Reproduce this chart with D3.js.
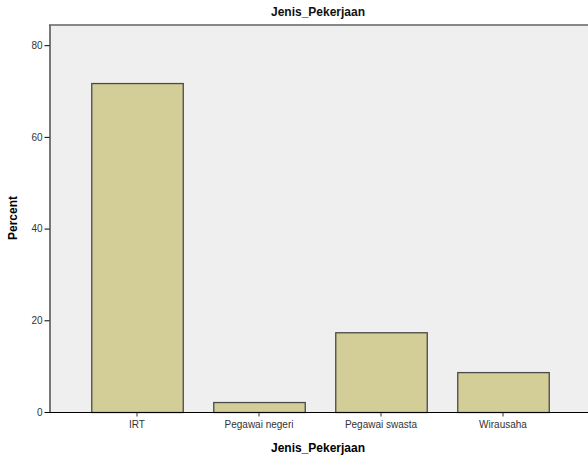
<!DOCTYPE html>
<meta charset="utf-8">
<style>
  body { margin: 0; background: #fff; font-family: "Liberation Sans", Arial, sans-serif; }
  .tick text { font-size: 10px; fill: #333; font-family: "Liberation Sans", Arial, sans-serif; }
</style>
<body>
<svg width="588" height="466"></svg>
<script src="https://d3js.org/d3.v7.min.js"></script>
<script>
// data (percent of 46 respondents)
var categories = ["IRT", "Pegawai negeri", "Pegawai swasta", "Wirausaha"];
var percent = [71.74, 2.17, 17.39, 8.70];
var yTicks = [0, 20, 40, 60, 80];

var svg = d3.select("svg");
var plotLeft = 49, plotTop = 25, plotBottom = 412, plotRight = 588;

var x = d3.scaleBand().domain(categories).range([76, 564]).paddingInner(0.25).paddingOuter(0.125);
var y = d3.scaleLinear().domain([0, 84.4]).range([plotBottom, plotTop]);

// plot background
svg.append("rect")
  .attr("x", plotLeft).attr("y", plotTop)
  .attr("width", plotRight - plotLeft).attr("height", plotBottom - plotTop)
  .attr("fill", "#efefef");

// top frame line
svg.append("line")
  .attr("x1", plotLeft).attr("x2", plotRight)
  .attr("y1", plotTop).attr("y2", plotTop)
  .attr("stroke", "#888").attr("stroke-width", 2);

// bars
svg.append("g").selectAll("rect")
  .data(percent)
  .enter().append("rect")
    .attr("x", function(d, i) { return x(categories[i]) + 0.5; })
    .attr("y", function(d) { return y(d) + 0.5; })
    .attr("width", x.bandwidth())
    .attr("height", function(d) { return plotBottom - y(d); })
    .attr("fill", "#d3ce97")
    .attr("stroke", "#4a4a4a")
    .attr("stroke-width", 1.3);

// y axis
var yAxis = svg.append("g")
  .attr("transform", "translate(" + (plotLeft + 0.5) + ",0)")
  .call(d3.axisLeft(y).tickValues(yTicks).tickSize(5).tickPadding(2).tickSizeOuter(0));
yAxis.select(".domain").attr("stroke", "#000");

// x axis
var xAxis = svg.append("g")
  .attr("transform", "translate(0," + (plotBottom + 0.5) + ")")
  .call(d3.axisBottom(x).tickSize(4).tickPadding(4).tickSizeOuter(0));
xAxis.select(".domain").attr("d", "M" + plotLeft + ",0H" + plotRight).attr("stroke", "#000");
xAxis.selectAll(".tick line").attr("stroke", "#333");

// titles
svg.append("text")
  .attr("x", 318).attr("y", 16)
  .attr("text-anchor", "middle")
  .style("font-size", "12px").style("font-weight", "bold").style("fill", "#111")
  .text("Jenis_Pekerjaan");

svg.append("text")
  .attr("x", 318).attr("y", 452)
  .attr("text-anchor", "middle")
  .style("font-size", "12px").style("font-weight", "bold").style("fill", "#000")
  .text("Jenis_Pekerjaan");

svg.append("text")
  .attr("transform", "translate(17,218) rotate(-90)")
  .attr("text-anchor", "middle")
  .style("font-size", "12px").style("font-weight", "bold").style("fill", "#000")
  .text("Percent");
</script>
</body>
